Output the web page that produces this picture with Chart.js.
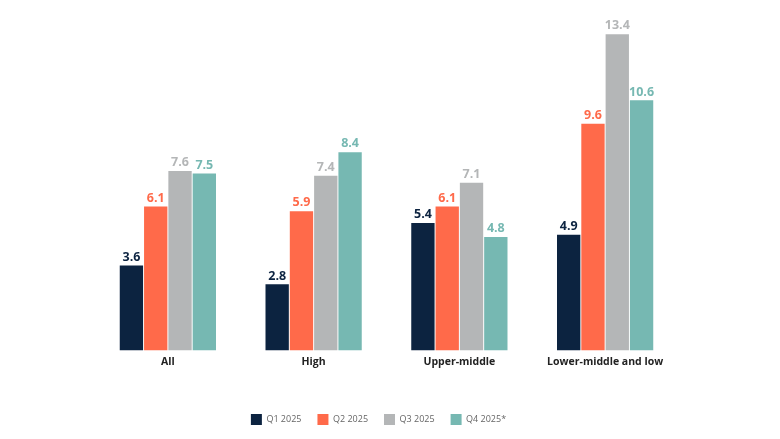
<!DOCTYPE html>
<html>
<head>
<meta charset="utf-8">
<script src="https://cdn.jsdelivr.net/npm/chart.js@4"></script>
<style>
  html, body { margin: 0; padding: 0; background: #fff; }
  #wrap { width: 780px; height: 439px; position: relative; }
</style>
</head>
<body>
<div id="wrap"><canvas id="chart"></canvas></div>
<script>
// ---------- data ----------
const categories = ["All", "High", "Upper-middle", "Lower-middle and low"];
const seriesNames = ["Q1 2025", "Q2 2025", "Q3 2025", "Q4 2025*"];
const q1 = [3.6, 2.8, 5.4, 4.9];
const q2 = [6.1, 5.9, 6.1, 9.6];
const q3 = [7.6, 7.4, 7.1, 13.4];
const q4 = [7.5, 8.4, 4.8, 10.6];
const colors = ["#0c2340", "#ff6a4a", "#b4b6b7", "#76b8b2"];

const FONT = "'Open Sans', 'Noto Sans', sans-serif";
Chart.defaults.font.family = FONT;

// value labels above each bar, in the series colour
const valueLabels = {
  id: "valueLabels",
  afterLayout(chart) {
    // legend sits a little left of the plot centre in the original
    chart.legend.left -= 8;
    chart.legend.right -= 8;
  },
  afterDatasetsDraw(chart) {
    const ctx = chart.ctx;
    ctx.save();
    ctx.font = `bold 12.5px ${FONT}`;
    ctx.textAlign = "center";
    ctx.textBaseline = "bottom";
    chart.data.datasets.forEach((ds, i) => {
      const meta = chart.getDatasetMeta(i);
      ctx.fillStyle = ds.backgroundColor;
      meta.data.forEach((bar, j) => {
        ctx.fillText(ds.data[j].toFixed(1), bar.x, bar.y - 2);
      });
    });
    ctx.restore();
  },
};

const series = [q1, q2, q3, q4];
new Chart(document.getElementById("chart"), {
  type: "bar",
  data: {
    labels: categories,
    datasets: series.map((d, i) => ({
      label: seriesNames[i],
      data: d,
      backgroundColor: colors[i],
      categoryPercentage: 0.667,
      barPercentage: 0.96,
    })),
  },
  options: {
    responsive: true,
    maintainAspectRatio: false,
    animation: false,
    layout: { padding: { left: 95, right: 102, top: 20, bottom: 4 } },
    plugins: {
      tooltip: { enabled: false },
      legend: {
        position: "bottom",
        labels: {
          boxWidth: 11,
          boxHeight: 11,
          padding: 16,
          color: "#666",
          font: { size: 9 },
        },
      },
    },
    scales: {
      x: {
        grid: { display: false, drawTicks: false },
        border: { display: false },
        ticks: { color: "#222", font: { size: 10.5, weight: "bold" }, padding: 5 },
        afterFit(scale) { scale.height += 25; },
      },
      y: {
        display: false,
        min: 0,
        max: 14,
      },
    },
  },
  plugins: [valueLabels],
});
</script>
</body>
</html>
